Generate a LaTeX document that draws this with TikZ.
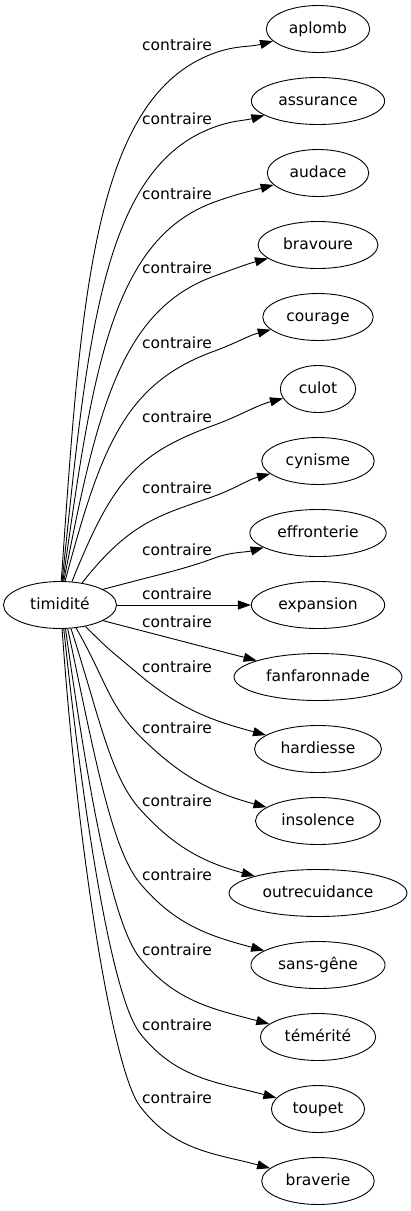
\documentclass[tikz,border=0pt]{standalone}
\usepackage{fontspec}
\setmainfont{DejaVu Sans}
\usetikzlibrary{shapes.geometric,arrows.meta}
\tikzset{
  ell/.style={ellipse, draw, line width=0.9pt, inner xsep=7.5pt, inner ysep=0pt, minimum width=72pt, minimum height=47pt, text height=11pt, text depth=3pt, font=\fontsize{15.5pt}{18pt}\selectfont},
  lab/.style={inner sep=2pt, font=\fontsize{15.5pt}{18pt}\selectfont},
  arr/.style={line width=0.9pt, -{Triangle[length=13pt,width=9pt]}}
}
% edge going up: target, label, label y, start angle, out angle, bend length
\newcommand{\contraup}[6]{ \node[lab] (#2) at (177,-#3) {contraire}; \draw[arr] (timidite.#4) to[out=#5, in=200, out looseness=1.3, in distance=#6pt] (#2.south east) to[out=20, in=195] (#1);}
% edge going down: target, label, label y, start angle, out angle, angle at label
\newcommand{\contradown}[6]{ \node[lab] (#2) at (177,-#3) {contraire}; \pgfmathtruncatemacro{\backang}{180+#6} \draw[arr] (timidite.#4) to[out=#5, in=\backang, out looseness=1.2, in distance=45pt] (#2.south west) to[out=#6, in=165] (#1);}
\begin{document}
\begin{tikzpicture}[x=1pt,y=1pt]
\useasboundingbox (0,0) rectangle (410,-1211);
% nodes
\node[ell, minimum width=113pt] (timidite) at (60,-605) {timidité};
\node[ell] (aplomb) at (318,-29) {aplomb};
\node[ell] (assurance) at (318,-101) {assurance};
\node[ell] (audace) at (318,-173) {audace};
\node[ell] (bravoure) at (318,-245) {bravoure};
\node[ell] (courage) at (318,-317) {courage};
\node[ell] (culot) at (318,-389) {culot};
\node[ell] (cynisme) at (318,-461) {cynisme};
\node[ell] (effronterie) at (318,-533) {effronterie};
\node[ell] (expansion) at (318,-605) {expansion};
\node[ell] (fanfaronnade) at (318,-677) {fanfaronnade};
\node[ell] (hardiesse) at (318,-749) {hardiesse};
\node[ell] (insolence) at (318,-821) {insolence};
\node[ell] (outrecuidance) at (318,-893) {outrecuidance};
\node[ell] (sansgene) at (318,-965) {sans-gêne};
\node[ell] (temerite) at (318,-1037) {témérité};
\node[ell] (toupet) at (318,-1109) {toupet};
\node[ell] (braverie) at (318,-1181) {braverie};
% up
\contraup{aplomb}{c1}{45}{87}{86}{130}
\contraup{assurance}{c2}{119}{85}{84}{120}
\contraup{audace}{c3}{194}{83}{82}{110}
\contraup{bravoure}{c4}{268}{81}{79}{100}
\contraup{courage}{c5}{343}{78}{75}{95}
\contraup{culot}{c6}{417}{63}{68}{85}
\contraup{cynisme}{c7}{488}{45}{52}{55}
\contraup{effronterie}{c8}{550}{20}{15}{35}
% straight
\node[lab] (c9) at (177,-594) {contraire};
\draw[arr] (timidite) -- (expansion);
\node[lab] (c10) at (177,-622) {contraire};
\draw[arr] (timidite.340) -- (fanfaronnade.165);
% down
\contradown{hardiesse}{c11}{667}{320}{-45}{-40}
\contradown{insolence}{c12}{728}{305}{-60}{-45}
\contradown{outrecuidance}{c13}{801}{295}{-72}{-48}
\contradown{sansgene}{c14}{875}{288}{-78}{-50}
\contradown{temerite}{c15}{950}{283}{-82}{-51}
\contradown{toupet}{c16}{1025}{279}{-84}{-52}
\contradown{braverie}{c17}{1098}{275}{-86}{-53}
\end{tikzpicture}
\end{document}
